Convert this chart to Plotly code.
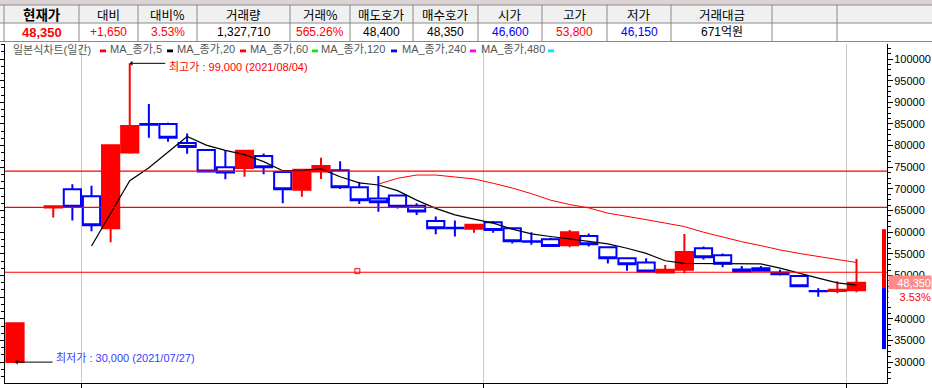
import plotly.graph_objects as go

# ---------------- data ----------------
dates = ["2021-07-27", "2021-07-28", "2021-07-29", "2021-07-30",
         "2021-08-02", "2021-08-03", "2021-08-04", "2021-08-05", "2021-08-06",
         "2021-08-09", "2021-08-10", "2021-08-11", "2021-08-12", "2021-08-13",
         "2021-08-17", "2021-08-18", "2021-08-19", "2021-08-20",
         "2021-08-23", "2021-08-24", "2021-08-25", "2021-08-26", "2021-08-27",
         "2021-08-30", "2021-08-31",
         "2021-09-01", "2021-09-02", "2021-09-03",
         "2021-09-06", "2021-09-07", "2021-09-08", "2021-09-09", "2021-09-10",
         "2021-09-13", "2021-09-14", "2021-09-15", "2021-09-16", "2021-09-17",
         "2021-09-23", "2021-09-24",
         "2021-09-27", "2021-09-28", "2021-09-29", "2021-09-30",
         "2021-10-01"]

opens = [30000, None, 65700, 69900, 68300, 60900, 78400, 85000, 85000, 80600,
         79000, 75000, 74800, 77600, 73900, 69800, 74000, 74300, 70400, 67800,
         68500, 66100, 62600, 61000, 60800, 62300, 60900, 57900, 58400, 57000,
         59100, 56500, 54000, 53000, 50700, 51300, 56300, 54700, 51400, 51700,
         50700, 49900, 46400, 46400, 46600]
highs = [39000, None, 66000, 71100, 70700, 80100, 99000, 89600, 85300, 82800,
         79000, 79000, 78800, 78200, 73900, 74400, 77200, 76400, 71600, 73000,
         68500, 66700, 63600, 62700, 61700, 62600, 60900, 60000, 58700, 60500,
         59700, 56700, 54200, 54000, 52400, 59600, 56700, 55100, 52200, 52200,
         51300, 49900, 47050, 48650, 53800]
lows = [30000, None, 63400, 62700, 60200, 57700, 78100, 81800, 80900, 78100,
        74000, 72200, 72800, 73400, 66700, 68200, 72300, 70000, 66500, 64700,
        65500, 64000, 59500, 59000, 59900, 59900, 57400, 57100, 56800, 56500,
        56700, 52800, 51100, 50900, 50700, 50500, 53700, 51900, 50900, 50900,
        50000, 47500, 45100, 45900, 46150]
closes = [39000, None, 66000, 65900, 61600, 80100, 84500, 84800, 81800, 79700,
          74000, 73800, 78800, 75000, 69900, 74400, 75300, 70400, 67400, 66900,
          65900, 64800, 60900, 60900, 61700, 60500, 57900, 57800, 56800, 60000,
          57200, 54000, 52600, 50900, 51300, 55400, 54200, 52700, 50900, 51100,
          50300, 47500, 46350, 46700, 48350]

ma5 = [None, None, None, None, 56800, 64200, 71900, 74900, 78600, 82100,
       80100, 78900, 77900, 76300, 74200, 74200, 74600, 72800, 71400, 70900,
       69600, 67400, 65500, 64000, 63000, 62100, 60700, 59600, 59000, 58500,
       57900, 57300, 56300, 55100, 53400, 52800, 52800, 52800, 52800, 52700,
       51700, 50500, 49400, 48300, 47800]
ma20 = [None] * 19 + [71100, 72450, 73200, 73200, 72750, 72300, 71300, 70200,
                      68900, 67400, 66400, 65600, 64400, 63700, 62900, 62100,
                      61300, 60000, 58900, 57800, 56900, 55900, 55100, 54400,
                      53800, 53000]

level_lines = [74100, 65750, 50750]
marker_slot = [17.9]
marker_price = [51000]

header_labels = ["현재가", "대비", "대비%", "거래량", "거래%", "매도호가", "매수호가",
                 "시가", "고가", "저가", "거래대금", "", ""]
header_values = ["48,350", "+1,650", "3.53%", "1,327,710", "565.26%", "48,400",
                 "48,350", "46,600", "53,800", "46,150", "671억원", "", ""]
value_colors = ["#ff0000", "#ff0000", "#ff0000", "#000000", "#ff0000", "#000000",
                "#000000", "#0000ff", "#ff0000", "#0000ff", "#000000", "#000000", "#000000"]

legend_labels = ["일본식차트(일간)", "MA_종가,5", "MA_종가,20", "MA_종가,60",
                 "MA_종가,120", "MA_종가,240", "MA_종가,480"]
legend_colors = ["#ff0000", "#000000", "#ff0000", "#00ee00", "#0000ff", "#ff00ff", "#00e5ff"]

change_pct = "3.53%"

# ---------------- geometry helpers ----------------
W, H = 932, 388
L, R, T, B = 5, 887, 44, 383


def px(x):
    return (x - L) / (R - L)


def py(y):
    return (B - y) / (B - T)


slots = list(range(len(dates)))
cx = [s for s in slots if opens[s] is not None]

fig = go.Figure()

fig.add_trace(go.Candlestick(
    x=cx,
    open=[opens[s] for s in cx], high=[highs[s] for s in cx],
    low=[lows[s] for s in cx], close=[closes[s] for s in cx],
    increasing=dict(line=dict(color="#ff0000", width=2), fillcolor="#ff0000"),
    decreasing=dict(line=dict(color="#0000ff", width=2), fillcolor="#ffffff"),
    whiskerwidth=0, hoverinfo="skip", showlegend=False))

fig.add_trace(go.Scatter(x=slots, y=ma20, mode="lines",
                         line=dict(color="#ff0000", width=1), hoverinfo="skip"))
fig.add_trace(go.Scatter(x=slots, y=ma5, mode="lines",
                         line=dict(color="#000000", width=1.2), hoverinfo="skip"))
fig.add_trace(go.Scatter(x=marker_slot, y=marker_price, mode="markers", yaxis="y2",
                         marker=dict(symbol="square-open", size=5, color="#ff0000",
                                     line=dict(width=1, color="#ff0000")),
                         hoverinfo="skip"))

shapes = []
annotations = []

# horizontal level lines
for lv in level_lines:
    shapes.append(dict(type="line", xref="paper", yref="y", x0=0, x1=1, y0=lv, y1=lv,
                       line=dict(color="#ff0000", width=1.2), layer="above"))

# side bar on the right
last_close = closes[-1]
shapes.append(dict(type="rect", xref="paper", yref="y", x0=px(882), x1=px(886),
                   y0=47100, y1=60700, fillcolor="#ff0000", line=dict(width=0)))
shapes.append(dict(type="rect", xref="paper", yref="y", x0=px(882), x1=px(886),
                   y0=33000, y1=47100, fillcolor="#0000ff", line=dict(width=0)))

# ---------------- table ----------------
col_edges = [4, 79, 138, 197, 290, 350, 413, 478, 542, 607, 671, 772, 837, 932]
shapes.append(dict(type="rect", xref="paper", yref="paper", x0=px(0), x1=px(932),
                   y0=py(0), y1=py(5), fillcolor="#dcd4d4", line=dict(width=0)))
shapes.append(dict(type="rect", xref="paper", yref="paper", x0=px(0), x1=px(932),
                   y0=py(5), y1=py(23), fillcolor="#f0f0f0", line=dict(width=0)))
shapes.append(dict(type="rect", xref="paper", yref="paper", x0=px(0), x1=px(932),
                   y0=py(23), y1=py(42), fillcolor="#ffffff", line=dict(width=0)))
for yy in [5, 23, 41.5]:
    shapes.append(dict(type="line", xref="paper", yref="paper", x0=px(0), x1=px(932),
                       y0=py(yy), y1=py(yy), line=dict(color="#8a8a8a", width=1)))
for xx in col_edges[:-1]:
    shapes.append(dict(type="line", xref="paper", yref="paper", x0=px(xx), x1=px(xx),
                       y0=py(5), y1=py(41.5), line=dict(color="#8a8a8a", width=1)))

cjk = "Liberation Sans, Noto Sans CJK KR, sans-serif"
for i, lab in enumerate(header_labels):
    xc = (col_edges[i] + col_edges[i + 1]) / 2
    if lab:
        bold = (i == 0)
        annotations.append(dict(xref="paper", yref="paper", x=px(xc), y=py(14),
                                text=("<b>%s</b>" % lab) if bold else lab, showarrow=False,
                                xanchor="center", yanchor="middle",
                                font=dict(family="Noto Sans CJK KR", size=13.5 if bold else 12.5,
                                          color="#000000")))
    val = header_values[i]
    if val:
        annotations.append(dict(xref="paper", yref="paper", x=px(xc), y=py(32.5),
                                text=("<b>%s</b>" % val) if i == 0 else val, showarrow=False,
                                xanchor="center", yanchor="middle",
                                font=dict(family=cjk, size=13 if i == 0 else 12,
                                          color=value_colors[i])))

# ---------------- legend row ----------------
text_x = [11, 108, 175, 248, 319, 400, 479]
dash_x = [100, 167, 240, 312, 391, 470, 548]
for lab, col, tx, dx in zip(legend_labels, legend_colors, text_x, dash_x):
    annotations.append(dict(xref="paper", yref="paper", x=px(tx), y=py(49.5), text=lab,
                            showarrow=False, xanchor="left", yanchor="middle",
                            font=dict(family=cjk, size=11, color="#555555")))
    shapes.append(dict(type="rect", xref="paper", yref="paper", x0=px(dx), x1=px(dx + 6),
                       y0=py(49.5), y1=py(52.3), fillcolor=col, line=dict(width=0)))

# ---------------- high / low annotations ----------------
valid_h = [(highs[s], s) for s in cx]
hi_val, hi_slot = max(valid_h)
valid_l = [(lows[s], s) for s in cx]
lo_val, lo_slot = min(valid_l)

annotations.append(dict(x=hi_slot, y=hi_val, xref="x", yref="y", text="", showarrow=True,
                        ax=37, ay=0, arrowhead=1, arrowsize=0.9, arrowwidth=1,
                        arrowcolor="#000000", standoff=0))
annotations.append(dict(x=hi_slot, y=hi_val, xref="x", yref="y",
                        text="최고가 : %s (%s)" % (format(hi_val, ","), dates[hi_slot].replace("-", "/")),
                        showarrow=False, xanchor="left", yanchor="middle", xshift=37, yshift=-4,
                        font=dict(family=cjk, size=11, color="#ff0000")))
annotations.append(dict(x=lo_slot, y=lo_val, xref="x", yref="y", text="", showarrow=True,
                        ax=39, ay=0, arrowhead=1, arrowsize=0.9, arrowwidth=1,
                        arrowcolor="#000000", standoff=0))
annotations.append(dict(x=lo_slot, y=lo_val, xref="x", yref="y",
                        text="최저가 : %s (%s)" % (format(lo_val, ","), dates[lo_slot].replace("-", "/")),
                        showarrow=False, xanchor="left", yanchor="middle", xshift=39, yshift=4,
                        font=dict(family=cjk, size=11, color="#3a3aff")))

# ---------------- current price label ----------------
annotations.append(dict(xref="paper", yref="y", x=px(932), y=last_close, text=format(last_close, ","),
                        showarrow=False, xanchor="right", yanchor="middle", bgcolor="#ff8a8a",
                        width=42, height=13, borderpad=0, align="right",
                        font=dict(family="Liberation Sans", size=11, color="#ffffff")))
annotations.append(dict(xref="paper", yref="y", x=px(932), y=last_close, text=change_pct,
                        showarrow=False, xanchor="right", yanchor="middle", yshift=-14,
                        bgcolor="#ffffff", width=42, height=13, borderpad=0, align="right",
                        font=dict(family="Liberation Sans", size=11, color="#ff0000")))

# ---------------- axes ----------------
bounds = [s - 0.5 for s in slots[1:] if dates[s][5:7] != dates[s - 1][5:7]]
x0 = -(15 - L) / 19.125
x1 = (R - 15) / 19.125
y_lo = 100000 - (B - 59) / 0.00433
y_hi = 100000 + (59 - T) / 0.00433

fig.update_layout(
    template="none",
    width=W, height=H, margin=dict(l=L, r=W - R, t=T, b=H - B, autoexpand=False),
    paper_bgcolor="#ffffff", plot_bgcolor="#ffffff", showlegend=False,
    boxgap=0.1, boxgroupgap=0,
    xaxis=dict(range=[x0, x1], showline=True, linecolor="#000000", linewidth=1,
               ticks="outside", ticklen=5, tickcolor="#000000", tickvals=bounds,
               showticklabels=False, showgrid=True, gridcolor="#c8c8c8", gridwidth=1,
               zeroline=False, automargin=False, rangeslider=dict(visible=False)),
    yaxis=dict(side="right", range=[y_lo, y_hi], showline=True, linecolor="#000000",
               linewidth=1, ticks="outside", ticklen=5, tickcolor="#000000",
               tickmode="linear", tick0=0, dtick=5000, tickformat="d",
               ticklabelstandoff=-1, automargin=False,
               tickfont=dict(family="Liberation Sans, Arial", size=11, color="#000000"),
               minor=dict(tickmode="linear", tick0=0, dtick=1250, ticks="outside", ticklen=3,
                          tickcolor="#000000", showgrid=False),
               showgrid=False, zeroline=False),
    yaxis2=dict(overlaying="y", side="left", range=[y_lo, y_hi], showline=True,
                linecolor="#000000", linewidth=1, ticks="outside", ticklen=5,
                tickcolor="#000000", tickmode="linear", tick0=0, dtick=5000,
                showticklabels=False, automargin=False,
                minor=dict(tickmode="linear", tick0=0, dtick=5000 / 3, ticks="outside",
                           ticklen=3, tickcolor="#000000", showgrid=False),
                showgrid=False, zeroline=False),
    shapes=shapes, annotations=annotations,
)

fig.write_html("out.html", config={"displayModeBar": False},
               post_script="document.body.style.margin='0';document.body.style.overflow='hidden';")
